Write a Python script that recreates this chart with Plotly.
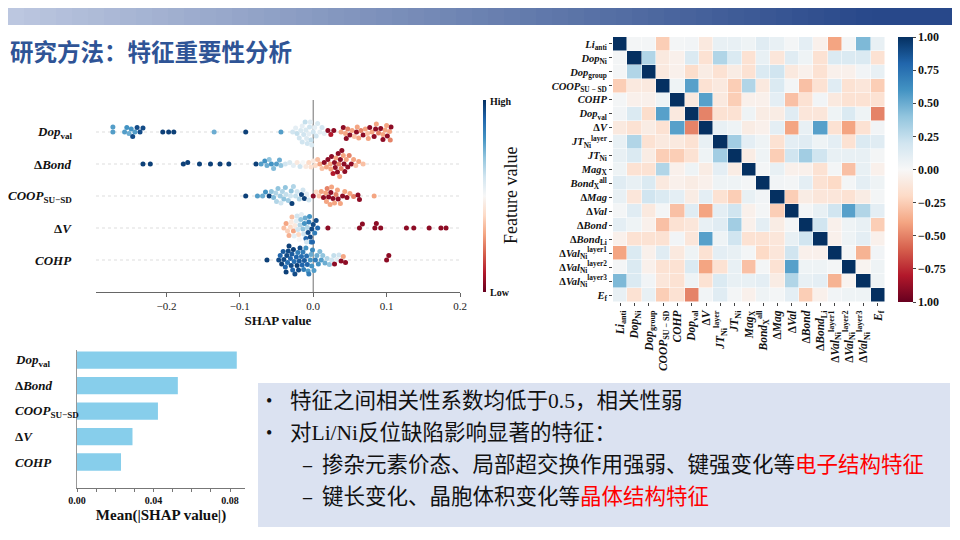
import plotly.graph_objects as go
import plotly.colors as pc

# ---------------- data ----------------
title_text = "研究方法：特征重要性分析"

shap_rows = ["Dop_val", "ΔBond", "COOP_SU-SD", "ΔV", "COHP"]
shap_row_labels = ["<b><i>Dop</i><sub>val</sub></b>", "<b>Δ<i>Bond</i></b>",
                   "<b><i>COOP</i><sub>SU−SD</sub></b>", "<b>Δ<i>V</i></b>", "<b><i>COHP</i></b>"]

dopval_shap = [-0.273, -0.273, -0.257, -0.254, -0.251, -0.248, -0.246, -0.243, -0.240, -0.236, -0.232,
               -0.205, -0.197, -0.190, -0.135, -0.092, -0.044,
               -0.028, -0.024, -0.022, -0.019, -0.017, -0.015, -0.013, -0.011, -0.009, -0.008, -0.006,
               -0.005, -0.003, -0.002, 0.000, 0.002, 0.004, 0.006, 0.009, 0.012, 0.015, -0.015, -0.010, -0.004,
               0.020, 0.024, 0.028, 0.038, 0.041, 0.044, 0.047, 0.050, 0.053, 0.056, 0.059, 0.062, 0.065,
               0.068, 0.071, 0.074, 0.077, 0.080, 0.083, 0.086, 0.089, 0.092, 0.095, 0.098, 0.101, 0.104,
               0.106, 0.045, 0.060, 0.075, 0.085, 0.095, 0.100, 0.105]
dopval_feat = [0.78, 0.78, 0.78, 0.8, 0.75, 0.8, 0.95, 0.78, 0.95, 0.95, 0.95,
               0.97, 0.97, 0.97, 0.75, 0.97, 0.78,
               0.6, 0.55, 0.62, 0.6, 0.58, 0.55, 0.6, 0.62, 0.57, 0.6, 0.55,
               0.6, 0.62, 0.58, 0.6, 0.55, 0.6, 0.58, 0.55, 0.6, 0.55, 0.6, 0.58, 0.56,
               0.05, 0.1, 0.05, 0.3, 0.05, 0.3, 0.25, 0.05, 0.3, 0.35, 0.05, 0.3, 0.25,
               0.05, 0.3, 0.35, 0.05, 0.3, 0.05, 0.3, 0.25, 0.05, 0.3, 0.3, 0.05, 0.3,
               0.05, 0.05, 0.3, 0.3, 0.05, 0.05, 0.3, 0.25]

dbond_shap = [-0.232, -0.222, -0.177, -0.171, -0.155, -0.140, -0.127, -0.115, -0.078, -0.071, -0.066,
              -0.063, -0.060, -0.057, -0.054, -0.050, -0.046, -0.044, -0.038, -0.032, -0.027, -0.022,
              -0.018, -0.014, -0.010, -0.006, -0.003, 0.000,
              0.003, 0.006, 0.009, 0.012, 0.015, 0.018, 0.020, 0.023, 0.025, 0.027, 0.029, 0.031, 0.033,
              0.035, 0.037, 0.039, 0.041, 0.043, 0.045, 0.047, 0.049, 0.052, 0.055, 0.058, 0.062, 0.068,
              0.030, 0.034, 0.038, 0.042, 0.024, 0.036]
dbond_feat = [0.97, 0.97, 0.97, 0.97, 0.97, 0.97, 0.97, 0.97, 0.97, 0.78, 0.8,
              0.75, 0.7, 0.8, 0.72, 0.78, 0.75, 0.7, 0.6, 0.58, 0.55, 0.45,
              0.6, 0.5, 0.45, 0.4, 0.42, 0.45,
              0.4, 0.35, 0.3, 0.35, 0.05, 0.3, 0.05, 0.3, 0.05, 0.1, 0.05, 0.3, 0.05,
              0.25, 0.05, 0.05, 0.3, 0.05, 0.3, 0.05, 0.25, 0.05, 0.3, 0.35, 0.3, 0.35,
              0.05, 0.05, 0.25, 0.05, 0.3, 0.3]

coop_shap = [-0.092, -0.076, -0.069, -0.065, -0.060, -0.057, -0.054, -0.051, -0.048, -0.045, -0.042,
             -0.040, -0.037, -0.034, -0.031, -0.029, -0.027, -0.024, -0.022, -0.019, -0.016, -0.014,
             -0.012, -0.009, -0.006, -0.050, -0.044, -0.038, -0.030,
             0.000, 0.004, 0.008, 0.011, 0.014, 0.017, 0.019, 0.021, 0.023, 0.025, 0.027, 0.029, 0.031,
             0.034, 0.037, 0.040, 0.043, 0.046, 0.050, 0.055, 0.061, 0.063, 0.083, 0.018, 0.024, 0.033]
coop_feat = [0.97, 0.78, 0.75, 0.8, 0.97, 0.7, 0.72, 0.65, 0.7, 0.68, 0.65,
             0.7, 0.62, 0.68, 0.6, 0.97, 0.65, 0.62, 0.6, 0.65, 0.97, 0.6,
             0.97, 0.55, 0.6, 0.65, 0.6, 0.7, 0.7,
             0.05, 0.4, 0.35, 0.3, 0.05, 0.3, 0.25, 0.05, 0.3, 0.3, 0.05, 0.3, 0.25,
             0.05, 0.3, 0.05, 0.3, 0.05, 0.3, 0.25, 0.05, 0.05, 0.3, 0.3, 0.05, 0.3]

dv_shap = [-0.040, -0.037, -0.035, -0.033, -0.031, -0.029, -0.027, -0.025, -0.023, -0.021, -0.020,
           -0.018, -0.016, -0.014, -0.013, -0.011, -0.010, -0.008, -0.007, -0.005, -0.004, -0.003,
           -0.002, -0.001, 0.000, 0.002, 0.004, 0.006, -0.030, -0.026, -0.022, -0.017, -0.012, -0.009,
           -0.006, -0.019,
           0.020, 0.063, 0.067, 0.084, 0.086, 0.092, 0.127, 0.137, 0.158, 0.174, 0.181]
dv_feat = [0.35, 0.3, 0.38, 0.32, 0.4, 0.35, 0.3, 0.45, 0.55, 0.6, 0.4,
           0.65, 0.55, 0.7, 0.6, 0.75, 0.9, 0.65, 0.95, 0.8, 0.95, 0.85,
           0.95, 0.9, 0.95, 0.85, 0.95, 0.9, 0.45, 0.55, 0.6, 0.7, 0.8, 0.6,
           0.85, 0.5,
           0.05, 0.05, 0.05, 0.05, 0.05, 0.05, 0.05, 0.05, 0.05, 0.05, 0.05]

cohp_shap = [-0.063, -0.047, -0.045, -0.043, -0.041, -0.040, -0.038, -0.037, -0.035, -0.034, -0.033,
             -0.031, -0.030, -0.029, -0.027, -0.026, -0.025, -0.023, -0.022, -0.021, -0.019, -0.018,
             -0.016, -0.015, -0.013, -0.012, -0.010, -0.009, -0.007, -0.006, -0.004, -0.003, -0.001,
             0.001, 0.003, 0.005, 0.007, 0.009, 0.011, 0.013, 0.016, 0.019, 0.022, 0.025, 0.028, 0.029,
             0.032, 0.035, 0.038, 0.041, 0.044, 0.100, 0.103, -0.036, -0.028, -0.020, -0.014, -0.008, -0.002]
cohp_feat = [0.97, 0.95, 0.9, 0.97, 0.92, 0.95, 0.9, 0.97, 0.88, 0.95, 0.97,
             0.9, 0.95, 0.92, 0.97, 0.88, 0.95, 0.9, 0.97, 0.85, 0.92, 0.95,
             0.88, 0.9, 0.85, 0.92, 0.8, 0.88, 0.78, 0.85, 0.8, 0.75, 0.82,
             0.78, 0.85, 0.75, 0.8, 0.72, 0.78, 0.7, 0.75, 0.65, 0.7, 0.6, 0.62, 0.05,
             0.55, 0.6, 0.05, 0.3, 0.05, 0.05, 0.05, 0.95, 0.9, 0.95, 0.85, 0.9, 0.8]

# mean |SHAP| bar chart
bar_labels = ["<b><i>Dop</i><sub>val</sub></b>", "<b>Δ<i>Bond</i></b>", "<b><i>COOP</i><sub>SU−SD</sub></b>",
              "<b>Δ<i>V</i></b>", "<b><i>COHP</i></b>"]
bar_values = [0.0835, 0.0527, 0.0423, 0.029, 0.023]

# correlation heatmap
corr_labels = ["<b><i>Li</i><sub>anti</sub></b>", "<b><i>Dop</i><sub>Ni</sub></b>", "<b><i>Dop</i><sub>group</sub></b>",
               "<b><i>COOP</i><sub>SU − SD</sub></b>", "<b><i>COHP</i></b>", "<b><i>Dop</i><sub>val</sub></b>",
               "<b>Δ<i>V</i></b>", "<b><i>JT</i><sub>Ni</sub><sup>layer</sup></b>", "<b><i>JT</i><sub>Ni</sub></b>",
               "<b><i>Mag</i><sub>X</sub></b>", "<b><i>Bond</i><sub>X</sub><sup>all</sup></b>", "<b>Δ<i>Mag</i></b>",
               "<b>Δ<i>Val</i></b>", "<b>Δ<i>Bond</i></b>", "<b>Δ<i>Bond</i><sub>Li</sub></b>",
               "<b>Δ<i>Val</i><sub>Ni</sub><sup>layer1</sup></b>", "<b>Δ<i>Val</i><sub>Ni</sub><sup>layer2</sup></b>",
               "<b>Δ<i>Val</i><sub>Ni</sub><sup>layer3</sup></b>", "<b><i>E</i><sub>f</sub></b>"]
corr = [
    [1, 0.02, 0.02, -0.25, 0.02, 0.03, -0.1, 0.08, 0.08, 0.05, 0.12, 0.08, 0.02, 0.1, -0.05, -0.4, 0.02, 0.45, 0.08],
    [0.02, 1, 0.3, -0.1, -0.05, 0.15, -0.15, 0.3, 0.15, -0.15, 0.08, -0.12, 0.12, 0.05, -0.15, 0.15, 0.15, 0.15, -0.15],
    [0.02, 0.3, 1, -0.1, -0.05, -0.18, -0.08, -0.15, -0.08, -0.15, 0.15, 0.2, -0.1, -0.05, -0.15, -0.05, -0.05, 0.03, 0.08],
    [-0.25, -0.1, -0.1, 1, 0.05, 0.55, -0.15, -0.1, -0.25, 0.3, -0.1, 0.15, 0.02, -0.3, -0.15, 0.12, -0.15, -0.12, -0.25],
    [0.02, -0.05, -0.05, 0.05, 1, -0.1, 0.55, -0.1, -0.25, -0.05, -0.05, 0.1, -0.3, -0.15, 0.03, -0.1, -0.15, -0.15, -0.15],
    [0.03, 0.15, -0.18, 0.55, -0.1, 1, -0.5, -0.15, -0.15, 0.05, -0.08, -0.08, 0.12, -0.12, -0.12, 0.05, 0.15, 0.05, -0.5],
    [-0.1, -0.15, -0.08, -0.15, 0.55, -0.5, 1, 0.08, 0.05, -0.08, -0.05, 0.1, -0.4, 0.08, 0.55, -0.15, -0.4, -0.15, 0.03],
    [0.08, 0.3, -0.15, -0.1, -0.1, -0.15, 0.08, 1, 0.35, 0.1, 0.05, -0.15, 0.1, 0.12, 0.05, 0.1, -0.15, 0.15, 0.12],
    [0.08, 0.15, -0.08, -0.25, -0.25, -0.15, 0.05, 0.35, 1, -0.08, 0.05, -0.25, 0.2, 0.35, 0.2, 0.08, 0.08, 0.08, 0.02],
    [0.05, -0.15, -0.15, 0.3, -0.05, 0.05, -0.08, 0.1, -0.08, 1, 0.02, 0.08, -0.05, -0.05, -0.15, 0.02, -0.3, 0.08, -0.05],
    [0.12, 0.08, 0.15, -0.1, -0.05, -0.08, -0.05, 0.05, 0.05, 0.02, 1, 0.03, 0.02, 0.1, -0.15, -0.2, 0.02, 0.1, 0.05],
    [0.08, -0.12, 0.2, 0.15, 0.1, -0.08, 0.1, -0.15, -0.25, 0.08, 0.03, 1, -0.25, -0.08, -0.12, -0.12, -0.15, -0.08, 0.02],
    [0.02, 0.12, -0.1, 0.02, -0.3, 0.12, -0.4, 0.1, 0.2, -0.05, 0.02, -0.25, 1, 0.02, 0.08, 0.2, 0.55, 0.3, 0.1],
    [0.1, 0.05, -0.05, -0.3, -0.15, -0.12, 0.08, 0.12, 0.35, -0.05, 0.1, -0.08, 0.02, 1, 0.2, -0.05, 0.05, 0.08, -0.25],
    [-0.05, -0.15, -0.15, -0.15, 0.03, -0.12, 0.55, 0.05, 0.2, -0.15, -0.15, -0.12, 0.08, 0.2, 1, -0.05, 0.05, 0.1, -0.05],
    [-0.4, 0.15, -0.05, 0.12, -0.1, 0.05, -0.15, 0.1, 0.08, 0.02, -0.2, -0.12, 0.2, -0.05, -0.05, 1, 0.02, -0.35, 0.03],
    [0.02, 0.15, -0.05, -0.15, -0.15, 0.15, -0.4, -0.15, 0.08, -0.3, 0.02, -0.15, 0.55, 0.05, 0.05, 0.02, 1, -0.03, 0.05],
    [0.45, 0.15, 0.03, -0.12, -0.15, 0.05, -0.15, 0.15, 0.08, 0.08, 0.1, -0.08, 0.3, 0.08, 0.1, -0.35, -0.03, 1, 0.05],
    [0.08, -0.15, 0.08, -0.25, -0.15, -0.5, 0.03, 0.12, 0.02, -0.05, 0.05, 0.02, 0.1, -0.25, -0.05, 0.03, 0.05, 0.05, 1],
]
cbar_ticks = [1, 0.75, 0.5, 0.25, 0, -0.25, -0.5, -0.75, -1]
cbar_ticktext = ["1.00", "0.75", "0.50", "0.25", "0.00", "−0.25", "−0.50", "−0.75", "1.00"]

bullet_lines = [
    "特征之间相关性系数均低于0.5，相关性弱",
    "对Li/Ni反位缺陷影响显著的特征：",
]
sub_lines = [
    "掺杂元素价态、局部超交换作用强弱、键强变化等<span style='color:#ff0000'>电子结构特征</span>",
    "键长变化、晶胞体积变化等<span style='color:#ff0000'>晶体结构特征</span>",
]

# ---------------- helpers ----------------
W, H = 960, 540
OFF = 8  # the page body margin pushes the figure 8 px right and down
SERIF = "Liberation Serif, Times New Roman, serif"
CJK = "Liberation Serif, Noto Sans CJK SC, sans-serif"
RDBU = pc.sequential.RdBu


def fx(p):
    return (p - OFF) / W


def fy(p):
    return 1 - (p - OFF) / H


def swarm(xs, px_per_x=730.0, d=4.6, step=0.5, cap=14.0):
    # beeswarm layout: y offsets in pixels so dots do not overlap
    order = sorted(range(len(xs)), key=lambda i: xs[i])
    placed, offs = [], [0.0] * len(xs)
    cands = [0.0]
    k = 1
    while k * step <= cap:
        cands += [k * step, -k * step]
        k += 1
    for i in order:
        xp = xs[i] * px_per_x
        near = [(a, b) for a, b in placed if abs(a - xp) < d]
        best = cands[-1]
        for c in cands:
            if all((a - xp) ** 2 + (b - c) ** 2 >= d * d for a, b in near):
                best = c
                break
        offs[i] = best
        placed.append((xp, best))
    return offs


fig = go.Figure()

# ---------------- beeswarm ----------------
row_pos = [4, 3, 2, 1, 0]
rows = [(dopval_shap, dopval_feat), (dbond_shap, dbond_feat), (coop_shap, coop_feat),
        (dv_shap, dv_feat), (cohp_shap, cohp_feat)]
for r, (sx, fv) in enumerate(rows):
    offs = swarm(sx)
    fig.add_trace(go.Scatter(
        x=sx, y=[row_pos[r] + o / 32.0 for o in offs], mode="markers",
        marker=dict(size=5, color=fv, colorscale=RDBU, cmin=0, cmax=1,
                    showscale=(r == 0),
                    colorbar=dict(x=fx(483), xanchor="left", y=fy(196), yanchor="middle",
                                  len=192 / H, thickness=3, outlinewidth=0, showticklabels=False,
                                  ticks="", xpad=0, ypad=0)),
        xaxis="x", yaxis="y", showlegend=False, hoverinfo="skip"))

# ---------------- bar chart ----------------
fig.add_trace(go.Bar(x=bar_values, y=row_pos, orientation="h", width=0.68,
                     marker=dict(color="#87ceeb", line=dict(width=0)),
                     xaxis="x3", yaxis="y3", showlegend=False, hoverinfo="skip"))

# ---------------- heatmap ----------------
n = len(corr_labels)
fig.add_trace(go.Heatmap(
    z=corr, x=list(range(n)), y=list(range(n)), zmin=-1, zmax=1, colorscale=RDBU,
    xgap=0.5, ygap=0.5,
    colorbar=dict(x=fx(898), xanchor="left", y=fy(169.5), yanchor="middle", len=265 / H,
                  thickness=15, outlinewidth=0, tickvals=cbar_ticks, ticktext=cbar_ticktext,
                  ticks="outside", ticklen=3, xpad=0, ypad=0,
                  tickfont=dict(family=SERIF, size=12, color="#111", weight="bold")),
    xaxis="x2", yaxis="y2", hoverinfo="skip"))

fig.update_layout(
    width=W, height=H, margin=dict(l=0, r=0, t=0, b=0, autoexpand=False),
    paper_bgcolor="white", plot_bgcolor="white",
    xaxis=dict(domain=[fx(96), fx(460)], range=[-0.296, 0.2], anchor="y",
               tickvals=[-0.2, -0.1, 0, 0.1, 0.2], ticktext=["−0.2", "−0.1", "0.0", "0.1", "0.2"],
               showline=True, linecolor="#666", linewidth=1, ticks="outside", ticklen=4,
               tickcolor="#666", showgrid=False, zeroline=False,
               tickfont=dict(family=SERIF, size=11, color="#222"),
               title=dict(text="<b>SHAP value</b>", font=dict(family=SERIF, size=13, color="#111"),
                          standoff=4)),
    yaxis=dict(domain=[fy(292), fy(100)], range=[-1, 5], anchor="x", showticklabels=False,
               showgrid=False, zeroline=False, showline=False, ticks=""),
    xaxis2=dict(domain=[fx(613), fx(885)], anchor="y2", range=[-0.5, n - 0.5],
                tickvals=list(range(n)), ticktext=corr_labels, tickangle=-90,
                ticks="outside", ticklen=3, tickcolor="#444", showgrid=False, zeroline=False,
                tickfont=dict(family=SERIF, size=11.5, color="#111")),
    yaxis2=dict(domain=[fy(302), fy(37)], anchor="x2", range=[n - 0.5, -0.5],
                tickvals=list(range(n)), ticktext=corr_labels,
                ticks="outside", ticklen=3, tickcolor="#444", showgrid=False, zeroline=False,
                tickfont=dict(family=SERIF, size=10.5, color="#111")),
    xaxis3=dict(domain=[fx(77), fx(245)], anchor="y3", range=[0, 0.0878],
                tickvals=[0, 0.01, 0.02, 0.03, 0.04, 0.05, 0.06, 0.07, 0.08],
                ticktext=["0.00", "", "", "", "0.04", "", "", "", "0.08"],
                showline=True, linecolor="#777", ticks="outside", ticklen=3, tickcolor="#777",
                showgrid=False, zeroline=False,
                tickfont=dict(family=SERIF, size=10, color="#111", weight="bold"),
                title=dict(text="<b>Mean(|SHAP value|)</b>", font=dict(family=SERIF, size=15, color="#111"),
                           standoff=4)),
    yaxis3=dict(domain=[fy(488), fy(350)], anchor="x3", range=[-1.02, 4.4], showline=True,
                linecolor="#999", showticklabels=False, ticks="", showgrid=False, zeroline=False),
)

shapes = []
# header gradient band
steps = 60
c0, c1 = (188, 199, 224), (40, 72, 138)
for i in range(steps):
    t = i / (steps - 1)
    col = "rgb(%d,%d,%d)" % tuple(int(c0[k] + (c1[k] - c0[k]) * min(1, t * 1.1)) for k in range(3))
    shapes.append(dict(type="rect", xref="paper", yref="paper", x0=i / steps, x1=(i + 1) / steps + 0.002,
                       y0=fy(25), y1=1, fillcolor=col, line=dict(width=0), layer="below"))
# text box
shapes.append(dict(type="rect", xref="paper", yref="paper", x0=fx(258), x1=fx(950), y0=fy(527), y1=fy(383),
                   fillcolor="#dbe2f1", line=dict(width=0), layer="below"))
# beeswarm row guide lines and zero line
for p in row_pos:
    shapes.append(dict(type="line", xref="x domain", yref="y", x0=0, x1=1, y0=p, y1=p,
                       line=dict(color="#dddddd", width=1, dash="dot"), layer="below"))
shapes.append(dict(type="line", xref="x", yref="y domain", x0=0, x1=0, y0=0, y1=1,
                   line=dict(color="#888888", width=1.2), layer="below"))

ann = []
ann.append(dict(text="<b>" + title_text + "</b>", x=fx(8), y=fy(51), xref="paper", yref="paper",
                xanchor="left", yanchor="middle", showarrow=False,
                font=dict(family="Noto Sans CJK SC", size=23.5, color="#2f5496")))
for lab, p in zip(shap_row_labels, row_pos):
    ann.append(dict(text=lab, x=fx(74), y=p, xref="paper", yref="y", xanchor="right", yanchor="middle",
                    showarrow=False, font=dict(family=SERIF, size=13, color="#111")))
for lab, p in zip(bar_labels, row_pos):
    ann.append(dict(text=lab, x=fx(13), y=p, xref="paper", yref="y3", xanchor="left", yanchor="middle",
                    showarrow=False, font=dict(family=SERIF, size=13, color="#111")))
ann.append(dict(text="<b>High</b>", x=fx(488), y=fy(101), xref="paper", yref="paper", xanchor="left",
                yanchor="middle", showarrow=False, font=dict(family=SERIF, size=10, color="#111")))
ann.append(dict(text="<b>Low</b>", x=fx(488), y=fy(292), xref="paper", yref="paper", xanchor="left",
                yanchor="middle", showarrow=False, font=dict(family=SERIF, size=10, color="#111")))
ann.append(dict(text="Feature value", x=fx(511), y=fy(196), xref="paper", yref="paper", textangle=-90,
                xanchor="center", yanchor="middle", showarrow=False,
                font=dict(family=SERIF, size=18, color="#111")))
# text box lines
for txt, yy in zip(bullet_lines, [401, 433]):
    ann.append(dict(text="•", x=fx(264), y=fy(yy), xref="paper", yref="paper", xanchor="left",
                    yanchor="middle", showarrow=False, font=dict(family=SERIF, size=18, color="#111")))
    ann.append(dict(text=txt, x=fx(288), y=fy(yy), xref="paper", yref="paper", xanchor="left",
                    yanchor="middle", showarrow=False, font=dict(family=CJK, size=21.5, color="#111")))
for txt, yy in zip(sub_lines, [465, 497]):
    ann.append(dict(text="<b>–</b>", x=fx(300), y=fy(yy), xref="paper", yref="paper", xanchor="left",
                    yanchor="middle", showarrow=False, font=dict(family=SERIF, size=18, color="#111")))
    ann.append(dict(text=txt, x=fx(320), y=fy(yy), xref="paper", yref="paper", xanchor="left",
                    yanchor="middle", showarrow=False, font=dict(family=CJK, size=21.5, color="#111")))

fig.update_layout(shapes=shapes, annotations=ann)
fig.write_html("out.html")
